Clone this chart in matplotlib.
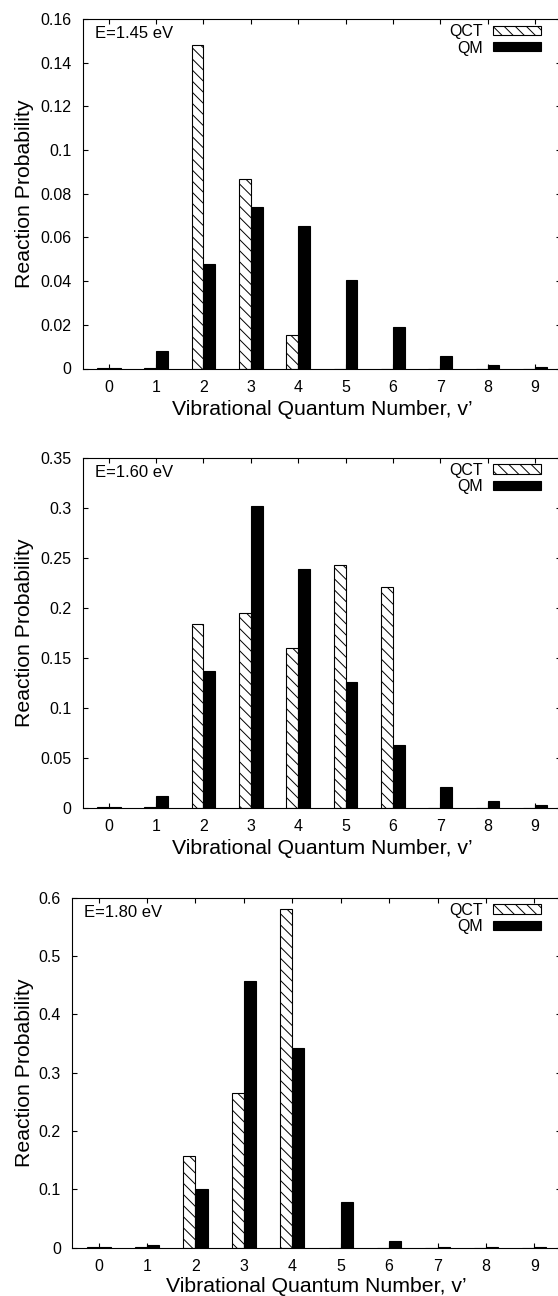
import numpy as np
import matplotlib
matplotlib.use("Agg")
import matplotlib.pyplot as plt

plt.rcParams['font.family'] = ['Liberation Sans', 'DejaVu Sans']
plt.rcParams['hatch.linewidth'] = 0.7

# vibrational levels v'
levels = np.arange(10)
tick_labels = [str(v) for v in levels]

# E = 1.45 eV
qct_145 = [0.0004, 0.0004, 0.148, 0.0866, 0.0155, 0.0, 0.0, 0.0, 0.0, 0.0]
qm_145 = [0.0004, 0.0082, 0.048, 0.0741, 0.0653, 0.0405, 0.0191, 0.0056, 0.0014, 0.0007]

# E = 1.60 eV
qct_160 = [0.0008, 0.0008, 0.1837, 0.1943, 0.160, 0.2427, 0.221, 0.0, 0.0, 0.0]
qm_160 = [0.0008, 0.012, 0.137, 0.3017, 0.2387, 0.126, 0.0623, 0.021, 0.007, 0.0027]

# E = 1.80 eV
qct_180 = [0.0015, 0.0015, 0.157, 0.265, 0.581, 0.0, 0.0, 0.0, 0.0, 0.0]
qm_180 = [0.0015, 0.0046, 0.100, 0.457, 0.342, 0.079, 0.0114, 0.0015, 0.0015, 0.0015]

energies = ['E=1.45 eV', 'E=1.60 eV', 'E=1.80 eV']
ymax = [0.16, 0.35, 0.6]
ystep = [0.02, 0.05, 0.1]

W, H = 558, 1296
fig = plt.figure(figsize=(W / 100, H / 100), dpi=100)

# panel frames in pixels: left, right, top, bottom
frames = [(82.7, 561, 19, 368.5),
          (82.7, 561, 457.7, 807.7),
          (72, 561, 897.7, 1247.7)]
xlabel_pads = [4, 4, 2]

data = [(qct_145, qm_145), (qct_160, qm_160), (qct_180, qm_180)]
bw = 0.25

for i, (qct, qm) in enumerate(data):
    l, r, t, b = frames[i]
    ax = fig.add_axes([l / W, 1 - b / H, (r - l) / W, (b - t) / H])
    ax.bar(levels - bw / 2, qct, bw, facecolor='white', edgecolor='black',
           hatch='\\\\\\', linewidth=0.8, label='QCT')
    ax.bar(levels + bw / 2, qm, bw, facecolor='black', edgecolor='black',
           linewidth=0.8, label='QM')
    ax.set_xlim(-0.55, 9.55)
    ax.set_ylim(0, ymax[i])
    ax.set_xticks(levels)
    ax.set_xticklabels(tick_labels)
    yt = np.arange(0, ymax[i] + 1e-9, ystep[i])
    ax.set_yticks(yt)
    ax.set_yticklabels(['0'] + ['{:g}'.format(round(v, 3)) for v in yt[1:]])
    ax.tick_params(direction='in', length=3.6, width=0.8, top=True, right=True,
                   labelsize=11.5, pad=8, colors='black')
    for s in ax.spines.values():
        s.set_linewidth(0.8)
    ax.set_xlabel('Vibrational Quantum Number, v\u2019', fontsize=15.3,
                  labelpad=xlabel_pads[i])
    ax.set_ylabel('Reaction Probability', fontsize=15.3)
    ax.yaxis.set_label_coords((34 - l) / (r - l), 0.5)
    ax.text(12.3 / (r - l), 1 - 7 / (b - t), energies[i], transform=ax.transAxes,
            fontsize=12, ha='left', va='top')
    ax.legend(loc='upper right', bbox_to_anchor=((541 - l) / (r - l), 1 - 5 / (b - t)),
              frameon=False, markerfirst=False, fontsize=11.5, handlelength=3.0,
              handleheight=0.5, handletextpad=0.65, labelspacing=0.1, borderpad=0,
              borderaxespad=0)

fig.savefig('out.png', dpi=100)
